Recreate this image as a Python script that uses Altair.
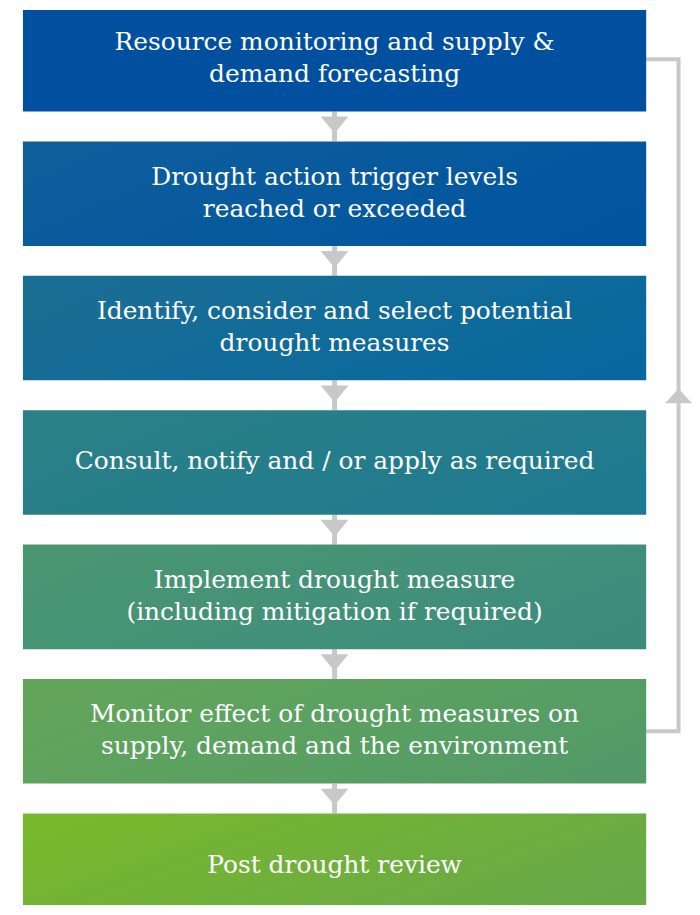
import altair as alt
import pandas as pd

# Flowchart content
steps = [
    "Resource monitoring and supply &\ndemand forecasting",
    "Drought action trigger levels\nreached or exceeded",
    "Identify, consider and select potential\ndrought measures",
    "Consult, notify and / or apply as required",
    "Implement drought measure\n(including mitigation if required)",
    "Monitor effect of drought measures on\nsupply, demand and the environment",
    "Post drought review",
]
left_colors = ["#00509F", "#0E5E9C", "#1A6E94", "#2A8086", "#4A9672", "#62A55A", "#78B82C"]
right_colors = ["#00509F", "#00559F", "#08689E", "#1E7A90", "#3C8C7E", "#529B68", "#68A848"]
loop_from, loop_to = 0, 5  # feedback loop: from "Monitor effect..." back to "Resource monitoring..."

# layout constants (reference pixel units)
STEP, BOX_H, TOP = 135, 105, 5
X0, X1, XC, XLOOP = 23, 649, 336, 681.5
LINE_H = 32
GREY = "#c8c8c8"

W, H = 684, 899
xs = alt.Scale(domain=[8, 8 + W], nice=False, zero=False)
ys = alt.Scale(domain=[8, 8 + H], nice=False, zero=False, reverse=True, clamp=True)

boxes = pd.DataFrame({"i": list(range(len(steps))), "label": steps})
boxes["top"] = TOP + STEP * boxes["i"]
boxes["bottom"] = boxes["top"] + BOX_H
boxes["nlines"] = boxes["label"].str.count("\n") + 1
boxes["mid"] = boxes["top"] + BOX_H / 2 - (boxes["nlines"] - 1) * LINE_H / 2 - 1
boxes["x0"], boxes["x1"], boxes["xc"] = X0, X1, XC

layers = []
for i in range(len(steps)):
    grad = alt.Gradient(
        gradient="linear",
        stops=[alt.GradientStop(color=left_colors[i], offset=0),
               alt.GradientStop(color=right_colors[i], offset=1)],
        x1=0, y1=0.3, x2=1, y2=0.7,
    )
    layers.append(
        alt.Chart(boxes[boxes["i"] == i]).mark_rect(fill=grad).encode(
            x=alt.X("x0:Q", scale=xs, axis=None),
            x2="x1:Q",
            y=alt.Y("top:Q", scale=ys, axis=None),
            y2="bottom:Q",
        )
    )

conn = pd.DataFrame({"i": list(range(len(steps) - 1))})
conn["y0"] = TOP + BOX_H + STEP * conn["i"]
conn["y1"] = conn["y0"] + (STEP - BOX_H)
conn["ym"] = conn["y0"] + (STEP - BOX_H) / 2 - 1.5
conn["x"] = XC

conn_lines = alt.Chart(conn).mark_rule(color=GREY, strokeWidth=5).encode(
    x=alt.X("x:Q", scale=xs, axis=None),
    y=alt.Y("y0:Q", scale=ys, axis=None),
    y2="y1:Q",
)
tri_down = alt.Chart(conn).mark_point(
    shape="M-1,-0.6L1,-0.6L0,0.6Z", filled=True, fill=GREY, opacity=1, size=784, strokeWidth=0
).encode(
    x=alt.X("x:Q", scale=xs, axis=None),
    y=alt.Y("ym:Q", scale=ys, axis=None),
)

ya = TOP + BOX_H / 2 + STEP * loop_from
yb = TOP + BOX_H / 2 + STEP * loop_to
loop = pd.DataFrame({
    "o": [0, 1, 2, 3],
    "x": [X1, XLOOP, XLOOP, X1],
    "y": [ya, ya, yb, yb],
})
loop_line = alt.Chart(loop).mark_line(color=GREY, strokeWidth=4, strokeJoin="miter").encode(
    x=alt.X("x:Q", scale=xs, axis=None),
    y=alt.Y("y:Q", scale=ys, axis=None),
    order="o:Q",
)
up = pd.DataFrame({"x": [XLOOP], "y": [(ya + yb) / 2 + 0.5]})
tri_up = alt.Chart(up).mark_point(
    shape="M-1,0.55L1,0.55L0,-0.55Z", filled=True, fill=GREY, opacity=1, size=729, strokeWidth=0
).encode(
    x=alt.X("x:Q", scale=xs, axis=None),
    y=alt.Y("y:Q", scale=ys, axis=None),
)

labels = alt.Chart(boxes).mark_text(
    font="DejaVu Serif", fontSize=25, color="white", lineBreak="\n",
    lineHeight=LINE_H, align="center", baseline="middle",
).encode(
    x=alt.X("xc:Q", scale=xs, axis=None),
    y=alt.Y("mid:Q", scale=ys, axis=None),
    text="label:N",
)

chart = alt.layer(conn_lines, tri_down, loop_line, tri_up, *layers, labels).properties(
    width=W, height=H, padding=0
).configure_view(stroke=None)

chart.save("out.html", embed_options={"renderer": "svg", "actions": False})
